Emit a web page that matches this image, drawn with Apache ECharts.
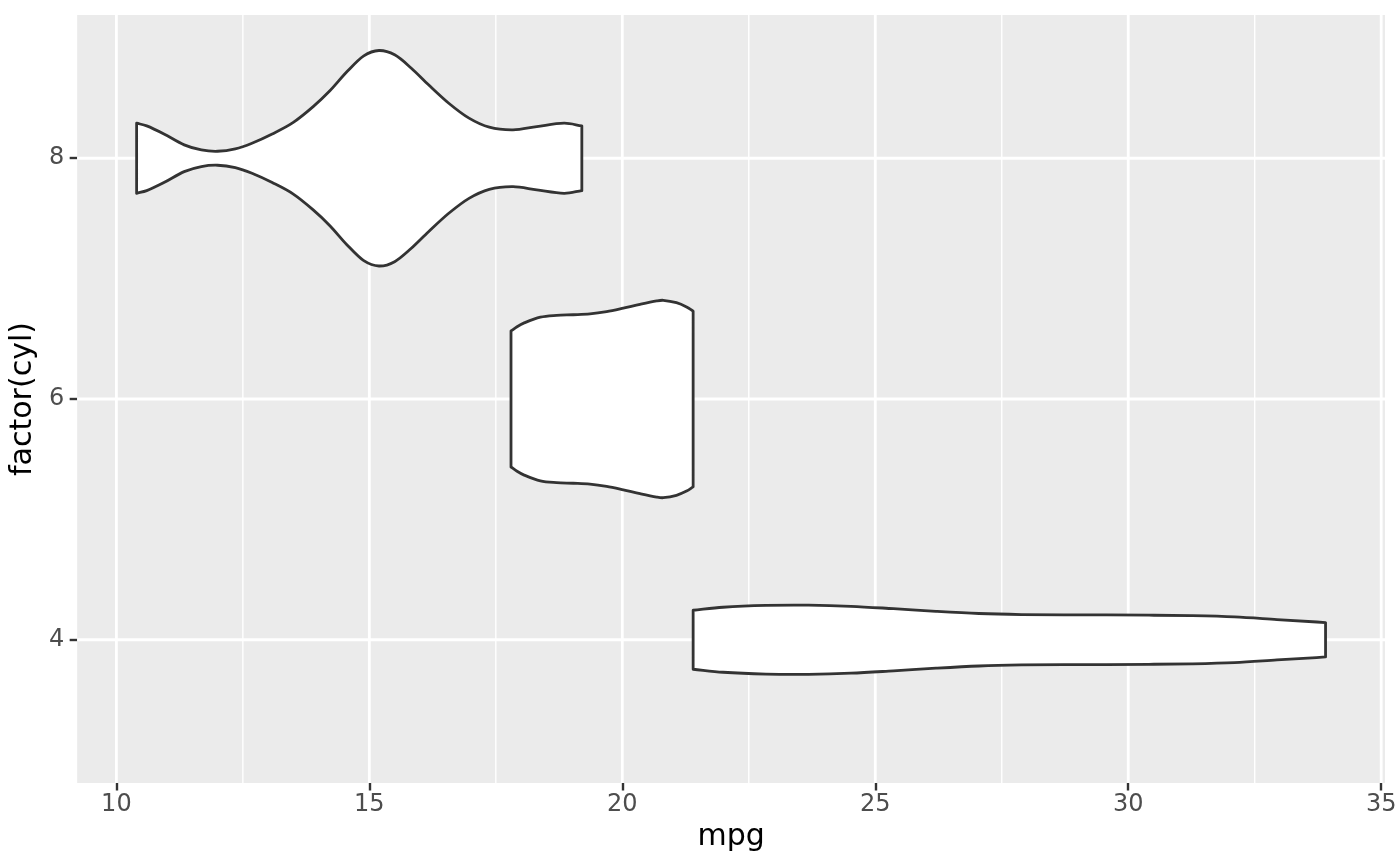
<!DOCTYPE html>
<html>
<head>
<meta charset="utf-8">
<script src="https://cdn.jsdelivr.net/npm/echarts@6/dist/echarts.min.js"></script>
<style>
	html, body { margin: 0; padding: 0; background: #fff; }
	#chart { width: 1400px; height: 866px; }
</style>
</head>
<body>
<div id="chart"></div>
<script>
// axis ranges and breaks
var xRange = [9.225, 35.075];
var yRange = [2.81, 9.19];
var xMajor = [10, 15, 20, 25, 30, 35];
var xMinor = [12.5, 17.5, 22.5, 27.5, 32.5];
var yMajor = [4, 6, 8];

// violin outlines: mpg positions and half-widths (in cyl units)
var cylLevels = [4, 6, 8];
var mpg4 = [21.4, 21.99, 22.84, 23.68, 24.52, 25.36, 26.2, 27.05, 27.89, 28.73, 29.57, 30.41, 31.25, 32.1, 32.94, 33.9];
var half4 = [0.245, 0.27, 0.285, 0.287, 0.278, 0.258, 0.236, 0.218, 0.209, 0.206, 0.206, 0.204, 0.2, 0.19, 0.168, 0.143];
var mpg6 = [17.8, 17.92, 18.05, 18.38, 18.7, 19.03, 19.36, 19.69, 20.02, 20.35, 20.68, 20.81, 21.07, 21.27, 21.4];
var half6 = [0.565, 0.6, 0.63, 0.68, 0.695, 0.7, 0.707, 0.726, 0.755, 0.787, 0.815, 0.82, 0.8, 0.765, 0.73];
var mpg8 = [10.4, 10.6, 10.94, 11.34, 11.68, 12.0, 12.35, 12.68, 13.08, 13.49, 13.89, 14.22, 14.56, 14.89, 15.19, 15.5, 15.83, 16.17, 16.57, 16.97, 17.37, 17.84, 18.31, 18.85, 19.2];
var half8 = [0.291, 0.269, 0.202, 0.111, 0.069, 0.058, 0.078, 0.125, 0.202, 0.296, 0.429, 0.56, 0.72, 0.851, 0.895, 0.859, 0.748, 0.61, 0.457, 0.333, 0.258, 0.236, 0.263, 0.291, 0.269];

var violins = [[mpg4, half4], [mpg6, half6], [mpg8, half8]];

// hermite curve through screen points (y as a function of x) -> bezier segments
function smoothSeg(pts) {
	var n = pts.length, m = [];
	for (var i = 0; i < n; i++) {
		var a = pts[Math.max(i - 1, 0)], b = pts[Math.min(i + 1, n - 1)];
		m.push((b[1] - a[1]) / (b[0] - a[0]));
	}
	var d = '';
	for (var i = 0; i < n - 1; i++) {
		var p1 = pts[i], p2 = pts[i + 1], h = (p2[0] - p1[0]) / 3;
		d += ' C ' + (p1[0] + h) + ' ' + (p1[1] + m[i] * h) + ' ' +
			(p2[0] - h) + ' ' + (p2[1] - m[i + 1] * h) + ' ' + p2[0] + ' ' + p2[1];
	}
	return d;
}

var chart = echarts.init(document.getElementById('chart'), null, {renderer: 'canvas'});

var font = 'DejaVu Sans';

var option = {
	animation: false,
	backgroundColor: '#ffffff',
	grid: {
		left: 76,
		right: 15,
		top: 15,
		bottom: 83,
		show: true,
		backgroundColor: '#EBEBEB',
		borderWidth: 0
	},
	xAxis: {
		type: 'value',
		min: xRange[0],
		max: xRange[1],
		name: 'mpg',
		nameLocation: 'middle',
		nameGap: 37,
		nameTextStyle: { color: '#000', fontSize: 30, fontFamily: font },
		axisLine: { show: false },
		axisTick: {
			show: true,
			customValues: xMajor,
			length: 7.5,
			lineStyle: { color: '#333333', width: 2.4 }
		},
		axisLabel: {
			customValues: xMajor,
			margin: 10,
			color: '#4D4D4D',
			fontSize: 24,
			fontFamily: font
		},
		splitLine: { show: false },
		minorSplitLine: { show: false }
	},
	yAxis: {
		type: 'value',
		min: yRange[0],
		max: yRange[1],
		name: 'factor(cyl)',
		nameLocation: 'middle',
		nameGap: 30,
		nameRotate: 90,
		nameTextStyle: { color: '#000', fontSize: 30, fontFamily: font },
		axisLine: { show: false },
		axisTick: {
			show: true,
			customValues: yMajor,
			length: 7.5,
			lineStyle: { color: '#333333', width: 2.4 }
		},
		axisLabel: {
			customValues: yMajor,
			margin: 13,
			color: '#4D4D4D',
			fontSize: 24,
			fontFamily: font
		},
		splitLine: { show: false }
	},
	series: [
		{
			// minor vertical grid lines
			type: 'custom',
			silent: true,
			z: 1,
			data: xMinor.map(function(v) { return [v, yRange[0]]; }),
			renderItem: function(params, api) {
				var x = api.coord([api.value(0), yRange[0]])[0];
				var cs = params.coordSys;
				return {
					type: 'line',
					shape: { x1: x, y1: cs.y, x2: x, y2: cs.y + cs.height },
					style: { stroke: '#ffffff', lineWidth: 1.4 }
				};
			}
		},
		{
			// major vertical grid lines
			type: 'custom',
			silent: true,
			z: 1,
			data: xMajor.map(function(v) { return [v, yRange[0]]; }),
			renderItem: function(params, api) {
				var x = api.coord([api.value(0), yRange[0]])[0];
				var cs = params.coordSys;
				return {
					type: 'line',
					shape: { x1: x, y1: cs.y, x2: x, y2: cs.y + cs.height },
					style: { stroke: '#ffffff', lineWidth: 2.8 }
				};
			}
		},
		{
			// major horizontal grid lines
			type: 'custom',
			silent: true,
			z: 1,
			data: yMajor.map(function(v) { return [xRange[0], v]; }),
			renderItem: function(params, api) {
				var y = api.coord([xRange[0], api.value(1)])[1];
				var cs = params.coordSys;
				return {
					type: 'line',
					shape: { x1: cs.x, y1: y, x2: cs.x + cs.width, y2: y },
					style: { stroke: '#ffffff', lineWidth: 2.8 }
				};
			}
		},
		{
			// violins
			type: 'custom',
			silent: true,
			z: 3,
			data: cylLevels.map(function(c, i) { return [violins[i][0][0], c]; }),
			renderItem: function(params, api) {
				var i = params.dataIndex;
				var cyl = cylLevels[i];
				var xs = violins[i][0], hs = violins[i][1];
				var top = [], bot = [];
				for (var j = 0; j < xs.length; j++) {
					top.push(api.coord([xs[j], cyl + hs[j]]));
					bot.push(api.coord([xs[j], cyl - hs[j]]));
				}
				bot.reverse();
				var d = 'M ' + top[0][0] + ' ' + top[0][1] + smoothSeg(top) +
					' L ' + bot[0][0] + ' ' + bot[0][1] + smoothSeg(bot) + ' Z';
				return {
					type: 'path',
					shape: { pathData: d },
					style: { fill: '#ffffff', stroke: '#333333', lineWidth: 2.8, lineJoin: 'round' }
				};
			}
		}
	]
};

chart.setOption(option);
</script>
</body>
</html>
